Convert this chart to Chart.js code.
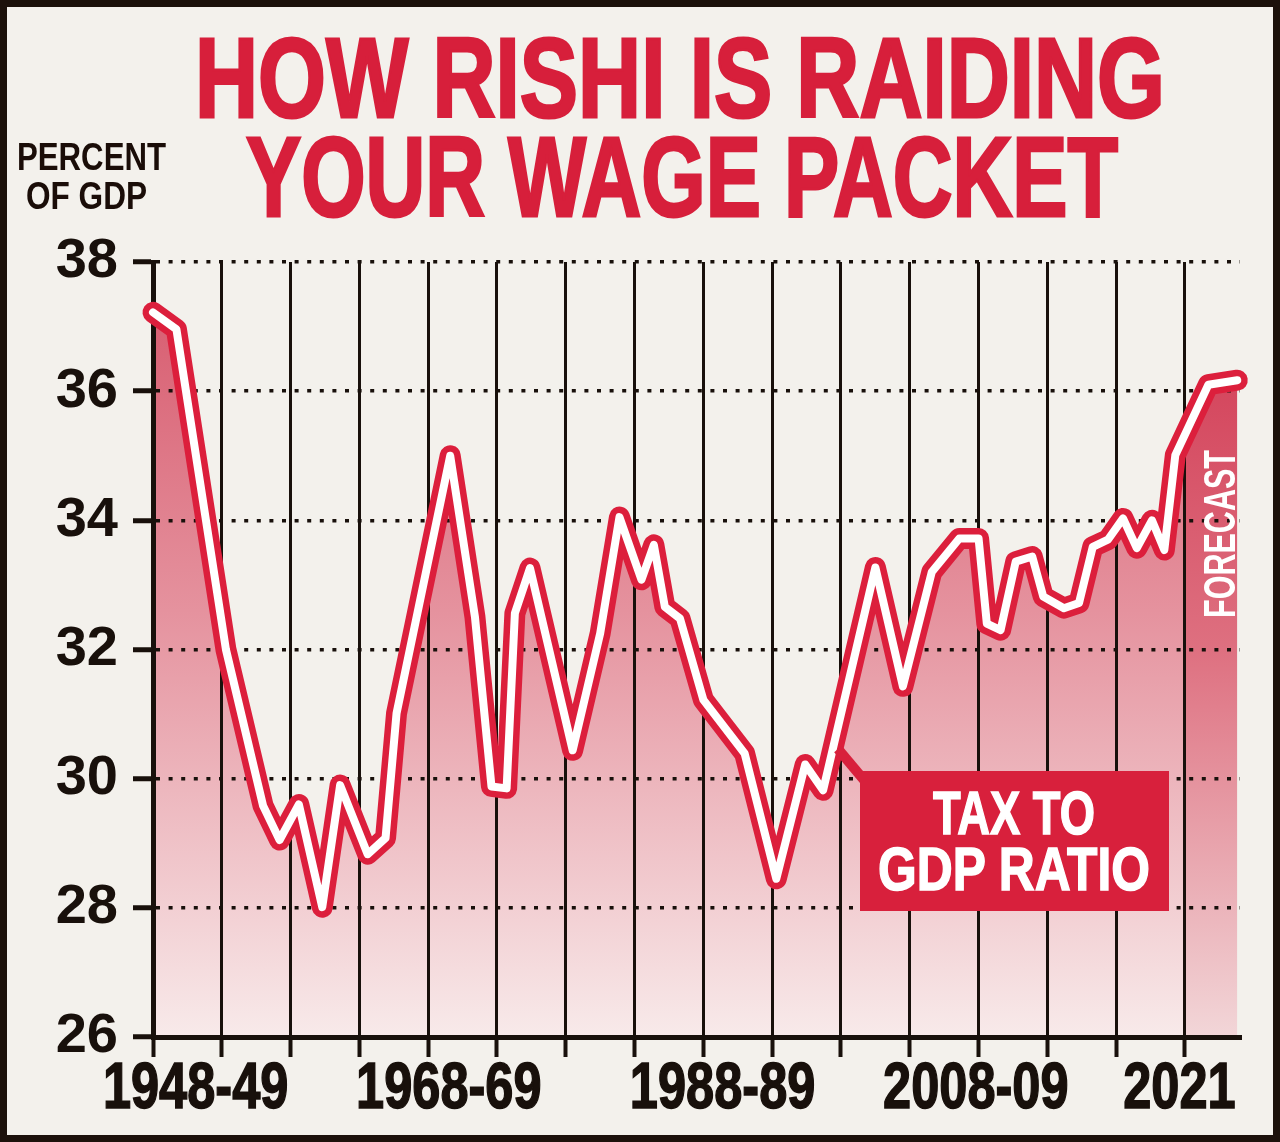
<!DOCTYPE html>
<html>
<head>
<meta charset="utf-8">
<script src="https://cdn.jsdelivr.net/npm/chart.js@4.4.0/dist/chart.umd.min.js"></script>
<style>
    html, body { margin: 0; padding: 0; background: #1c110b; }
    #frame { position: relative; width: 1280px; height: 1142px; overflow: hidden; background: #1c110b; }
    #paper { position: absolute; left: 7px; top: 7px; right: 7px; bottom: 7px; background: #f3f1ec; }
    #chart-canvas { position: absolute; left: 0; top: 0; }
    .txt {
        position: absolute; white-space: nowrap; line-height: 1; transform-origin: 0 0;
        font-family: "Liberation Sans Narrow", "Liberation Sans", Arial, sans-serif; font-weight: bold;
    }
    .title { color: #d71f3b; font-size: 113px; -webkit-text-stroke: 3px #d71f3b; }
    .unit { color: #1a0d08; font-size: 39px; }
    .boxtxt { color: #ffffff; font-size: 62px; -webkit-text-stroke: 1.5px #ffffff; }
    #tax-box { position: absolute; left: 860px; top: 771px; width: 309px; height: 140px; background: #d8203c; }
    #leader { position: absolute; left: 838px; top: 744px; width: 48px; height: 10px; background: #d8203c;
              transform-origin: 0 50%; transform: rotate(50deg); }
    #forecast { color: #ffffff; font-size: 45px; }
</style>
</head>
<body>
<div id="frame">
    <div id="paper"></div>
    <canvas id="chart-canvas" width="1280" height="1142"></canvas>

    <span class="txt title fit" data-w="970" style="left:195px; top:22px;">HOW RISHI IS RAIDING</span>
    <span class="txt title fit" data-w="872" style="left:246px; top:121px;">YOUR WAGE PACKET</span>

    <span class="txt unit fit" data-w="149" style="left:17px; top:137px;">PERCENT</span>
    <span class="txt unit fit" data-w="121" style="left:26px; top:176px;">OF GDP</span>

    <div id="leader"></div>
    <div id="tax-box"></div>
    <span class="txt boxtxt fit" data-w="162" style="left:933px; top:782px;">TAX TO</span>
    <span class="txt boxtxt fit" data-w="272" style="left:878px; top:838px;">GDP RATIO</span>

    <span class="txt" id="forecast">FORECAST</span>
</div>

<script>
// Tax to GDP ratio (% of GDP)
const yearPos = [1948.0, 1949.7, 1953.3, 1956.0, 1957.2, 1958.6, 1960.3, 1961.6, 1963.6, 1964.9,
                 1965.7, 1969.6, 1971.4, 1972.6, 1973.7, 1974.3, 1975.4, 1978.5, 1980.5, 1981.9,
                 1983.5, 1984.4, 1985.2, 1986.3, 1988.0, 1991.0, 1993.3, 1995.4, 1996.7, 2000.5,
                 2002.5, 2004.6, 2006.6, 2008.0, 2008.6, 2009.6, 2010.7, 2011.9, 2012.7, 2014.2,
                 2015.3, 2016.3, 2017.4, 2018.5, 2019.5, 2020.6, 2021.5, 2022.3, 2024.7, 2026.8];
const taxToGdp = [37.22, 36.96, 32.0, 29.58, 29.05, 29.6, 28.01, 29.9, 28.83, 29.08,
                  31.01, 35.0, 32.5, 29.88, 29.85, 32.56, 33.26, 30.44, 32.25, 34.05,
                  33.08, 33.62, 32.66, 32.48, 31.22, 30.39, 28.45, 30.22, 29.82, 33.27,
                  31.43, 33.2, 33.72, 33.72, 32.4, 32.3, 33.36, 33.44, 32.82, 32.64,
                  32.72, 33.59, 33.7, 34.03, 33.57, 34.0, 33.54, 35.01, 36.1, 36.17];

// forecast band (darker shading)
const forecastYears = [2023.0, 2024.7, 2026.8];
const forecastVals = [35.3, 36.1, 36.17];

// axes
const gridYears = [1948, 1953, 1958, 1963, 1968, 1973, 1978, 1983, 1988, 1993, 1998, 2003, 2008, 2013, 2018, 2023];
const xLabels = ["1948-49", "1968-69", "1988-89", "2008-09", "2021"];
const yTicks = [26, 28, 30, 32, 34, 36, 38];

// where the year labels sit (in years along the axis)
const xLabelAt = [1951.1, 1969.5, 1989.4, 2007.8, 2022.6];

const ink = '#18100b';
const red = '#dc1f3c';
const canvas = document.getElementById("chart-canvas");

const toPoints = (xs, ys) => xs.map((x, i) => ({ x: x, y: ys[i] }));

const makeGradient = (ctx, area, stops) => {
    const g = ctx.createLinearGradient(0, area.top, 0, area.bottom);
    stops.forEach(s => g.addColorStop(s[0], s[1]));
    return g;
};

const mainFill = (c) => {
    const { ctx, chartArea } = c.chart;
    if (!chartArea) return 'rgba(220,110,125,0.6)';
    return makeGradient(ctx, chartArea, [
        [0, 'rgb(214,86,106)'],
        [0.45, 'rgb(229,146,158)'],
        [1, 'rgb(248,234,234)']
    ]);
};

const forecastFill = (c) => {
    const { ctx, chartArea } = c.chart;
    if (!chartArea) return 'rgba(214,60,85,0.8)';
    return makeGradient(ctx, chartArea, [
        [0, 'rgb(208,52,78)'],
        [0.5, 'rgb(222,112,128)'],
        [1, 'rgb(242,214,216)']
    ]);
};

// condensed year labels under the axis, placed by the xl scale
const yearLabels = {
    id: 'yearLabels',
    afterDraw(chart) {
        const s = chart.scales.xl;
        const ctx = chart.ctx;
        ctx.save();
        ctx.fillStyle = ink;
        ctx.strokeStyle = ink;
        ctx.lineWidth = 1.5;
        ctx.font = 'bold 64px "Liberation Sans", Arial, sans-serif';
        ctx.textAlign = 'center';
        ctx.textBaseline = 'alphabetic';
        s.ticks.forEach((t, i) => {
            ctx.save();
            ctx.translate(s.getPixelForValue(t.value), s.top + 49);
            ctx.scale(0.79, 1);
            ctx.fillText(xLabels[i], 0, 0);
            ctx.strokeText(xLabels[i], 0, 0);
            ctx.restore();
        });
        ctx.restore();
    }
};

const mainPts = toPoints(yearPos, taxToGdp);

const config = {
    type: 'line',
    data: {
        datasets: [
            {   // white core of the line
                data: mainPts, order: 0, borderColor: '#ffffff', borderWidth: 8,
                borderJoinStyle: 'round', borderCapStyle: 'round', pointRadius: 0, tension: 0, fill: false, clip: false
            },
            {   // red outline
                data: mainPts, order: 1, borderColor: red, borderWidth: 21,
                borderJoinStyle: 'round', borderCapStyle: 'round', pointRadius: 0, tension: 0, fill: false, clip: false
            },
            {   // forecast shading
                data: toPoints(forecastYears, forecastVals), order: 2, borderWidth: 0,
                pointRadius: 0, tension: 0, fill: 'start', backgroundColor: forecastFill
            },
            {   // area under the line
                data: mainPts, order: 3, borderWidth: 0,
                pointRadius: 0, tension: 0, fill: 'start', backgroundColor: mainFill
            }
        ]
    },
    options: {
        responsive: false,
        animation: false,
        devicePixelRatio: 1,
        events: [],
        layout: { padding: { left: 0, top: 262, right: 40, bottom: 0 } },
        plugins: {
            legend: { display: false },
            tooltip: { enabled: false },
            title: { display: false },
            filler: { drawTime: 'beforeDraw' }
        },
        scales: {
            x: {
                type: 'linear', position: 'bottom', weight: 0,
                min: 1948, max: 2027,
                afterBuildTicks: (s) => { s.ticks = gridYears.map(v => ({ value: v })); },
                afterFit: (s) => { s.height = 22; },
                ticks: { display: false },
                grid: { color: ink, lineWidth: 3, drawTicks: true, tickLength: 20, tickWidth: 4, tickColor: ink },
                border: { display: true, color: ink, width: 5 }
            },
            xl: {
                type: 'linear', position: 'bottom', weight: 1,
                min: 1948, max: 2027,
                afterBuildTicks: (s) => { s.ticks = xLabelAt.map(v => ({ value: v })); },
                afterFit: (s) => { s.height = 83; },
                ticks: { display: false },
                grid: { display: false, drawTicks: false, tickLength: 0 },
                border: { display: false }
            },
            y: {
                type: 'linear', min: 26, max: 38,
                afterBuildTicks: (s) => { s.ticks = yTicks.map(v => ({ value: v })); },
                afterFit: (s) => { s.width = 153; },
                ticks: {
                    padding: 15, color: ink,
                    font: { family: '"Liberation Sans", Arial, sans-serif', size: 56, weight: 'bold' }
                },
                grid: { color: ink, lineWidth: 3.5, drawTicks: true, tickLength: 20, tickWidth: 5, tickColor: ink, tickBorderDash: [] },
                border: { display: true, color: ink, width: 5, dash: [4, 8.6] }
            }
        }
    },
    plugins: [yearLabels]
};

const currChart = new Chart(canvas.getContext('2d'), config);

// squeeze the headline type to the condensed widths of the original
document.querySelectorAll('.fit').forEach(el => {
    const w = el.getBoundingClientRect().width;
    el.style.transform = `scaleX(${(+el.dataset.w / w).toFixed(4)})`;
});

const fc = document.getElementById('forecast');
const fcScale = 168 / fc.getBoundingClientRect().width;
fc.style.left = '0px';
fc.style.top = '0px';
fc.style.transform = `translate(1197px, 618px) rotate(-90deg) scaleX(${fcScale.toFixed(4)})`;
</script>
</body>
</html>
